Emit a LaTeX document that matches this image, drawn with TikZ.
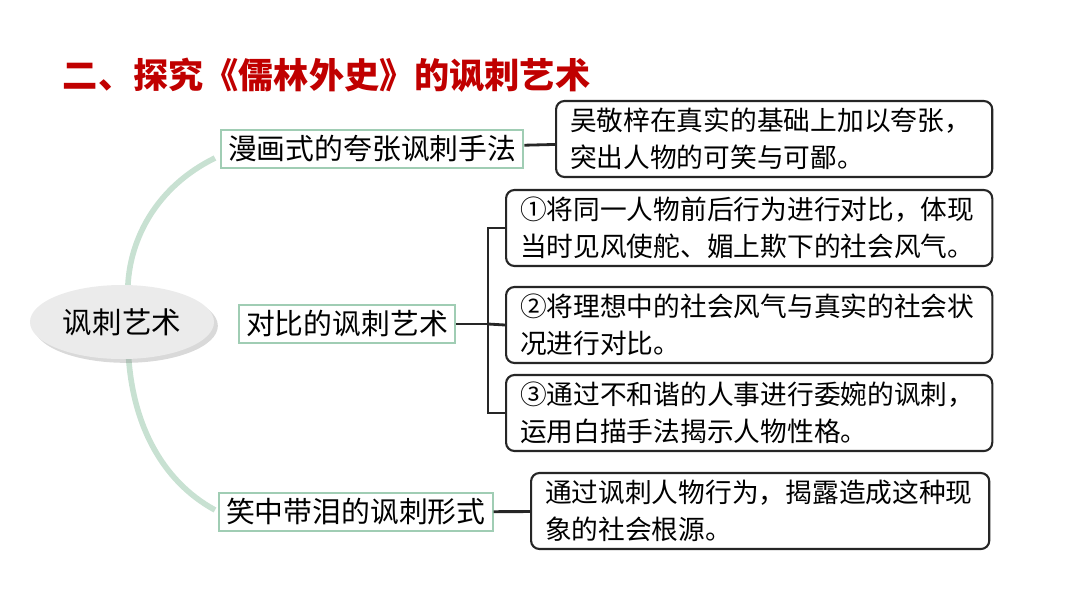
\documentclass[tikz,border=0pt]{standalone}
\usepackage{fontspec}
\setmainfont{Noto Sans CJK SC}
\usetikzlibrary{shapes.geometric,shadows}
\definecolor{titlered}{RGB}{192,0,0}
\definecolor{leafgreen}{RGB}{200,225,210}
\definecolor{boxgreen}{RGB}{160,205,180}
\tikzstyle{branch} = [rectangle, draw=boxgreen, line width=1.5pt, fill=white, inner xsep=5pt, inner ysep=4pt, font=\fontsize{20.5}{24}\selectfont, anchor=west]
\tikzstyle{leaf} = [rectangle, rounded corners=6pt, draw=black!85, line width=1.5pt, fill=white, align=left, inner xsep=10pt, font=\fontsize{19}{26}\selectfont, anchor=west, minimum height=1.9cm]
\tikzstyle{link} = [line width=2pt, black!85]
\begin{document}
\begin{tikzpicture}[x=0.025cm,y=-0.025cm]
	\useasboundingbox (0,0) rectangle (1080,608);
	\node (title) [anchor=west, text=titlered, font=\fontsize{25}{28}\selectfont\bfseries] at (58,75) {二、探究《儒林外史》的讽刺艺术};

	% curved stem
	\draw [leafgreen, line width=4pt] (215,158) .. controls (150,190) and (125,250) .. (128,300);
	\draw [leafgreen, line width=4pt] (128,345) .. controls (130,420) and (160,480) .. (215,510);

	\node (root) [ellipse, minimum width=4.6cm, minimum height=1.85cm, fill=black!8, drop shadow={opacity=0.3}, font=\fontsize{21}{25}\selectfont] at (122,322) {讽刺艺术};

	\node (comic) [branch] at (220,149) {漫画式的夸张讽刺手法};
	\node (contrast) [branch] at (238,324) {对比的讽刺艺术};
	\node (tears) [branch] at (218,512) {笑中带泪的讽刺形式};

	\node (exaggerate) [leaf, text width=10.2cm] at (555,139) {吴敬梓在真实的基础上加以夸张，\\突出人物的可笑与可鄙。};
	\node (compare1) [leaf, text width=11.45cm] at (505,228) {①将同一人物前后行为进行对比，体现\\当时见风使舵、媚上欺下的社会风气。};
	\node (compare2) [leaf, text width=11.45cm] at (505,325) {②将理想中的社会风气与真实的社会状\\况进行对比。};
	\node (compare3) [leaf, text width=11.45cm] at (505,413) {③通过不和谐的人事进行委婉的讽刺，\\运用白描手法揭示人物性格。};
	\node (source) [leaf, text width=10.75cm] at (530,511) {通过讽刺人物行为，揭露造成这种现\\象的社会根源。};

	\coordinate (fork) at (488,324);
	\draw [link] (comic) -- (exaggerate);
	\draw [link] (tears) -- (source);
	\draw [link] (contrast) -- (fork);
	\draw [link] (compare1.west) -| (fork) |- (compare3.west);
	\draw [link] (fork) -- (compare2.west);
\end{tikzpicture}
\end{document}
